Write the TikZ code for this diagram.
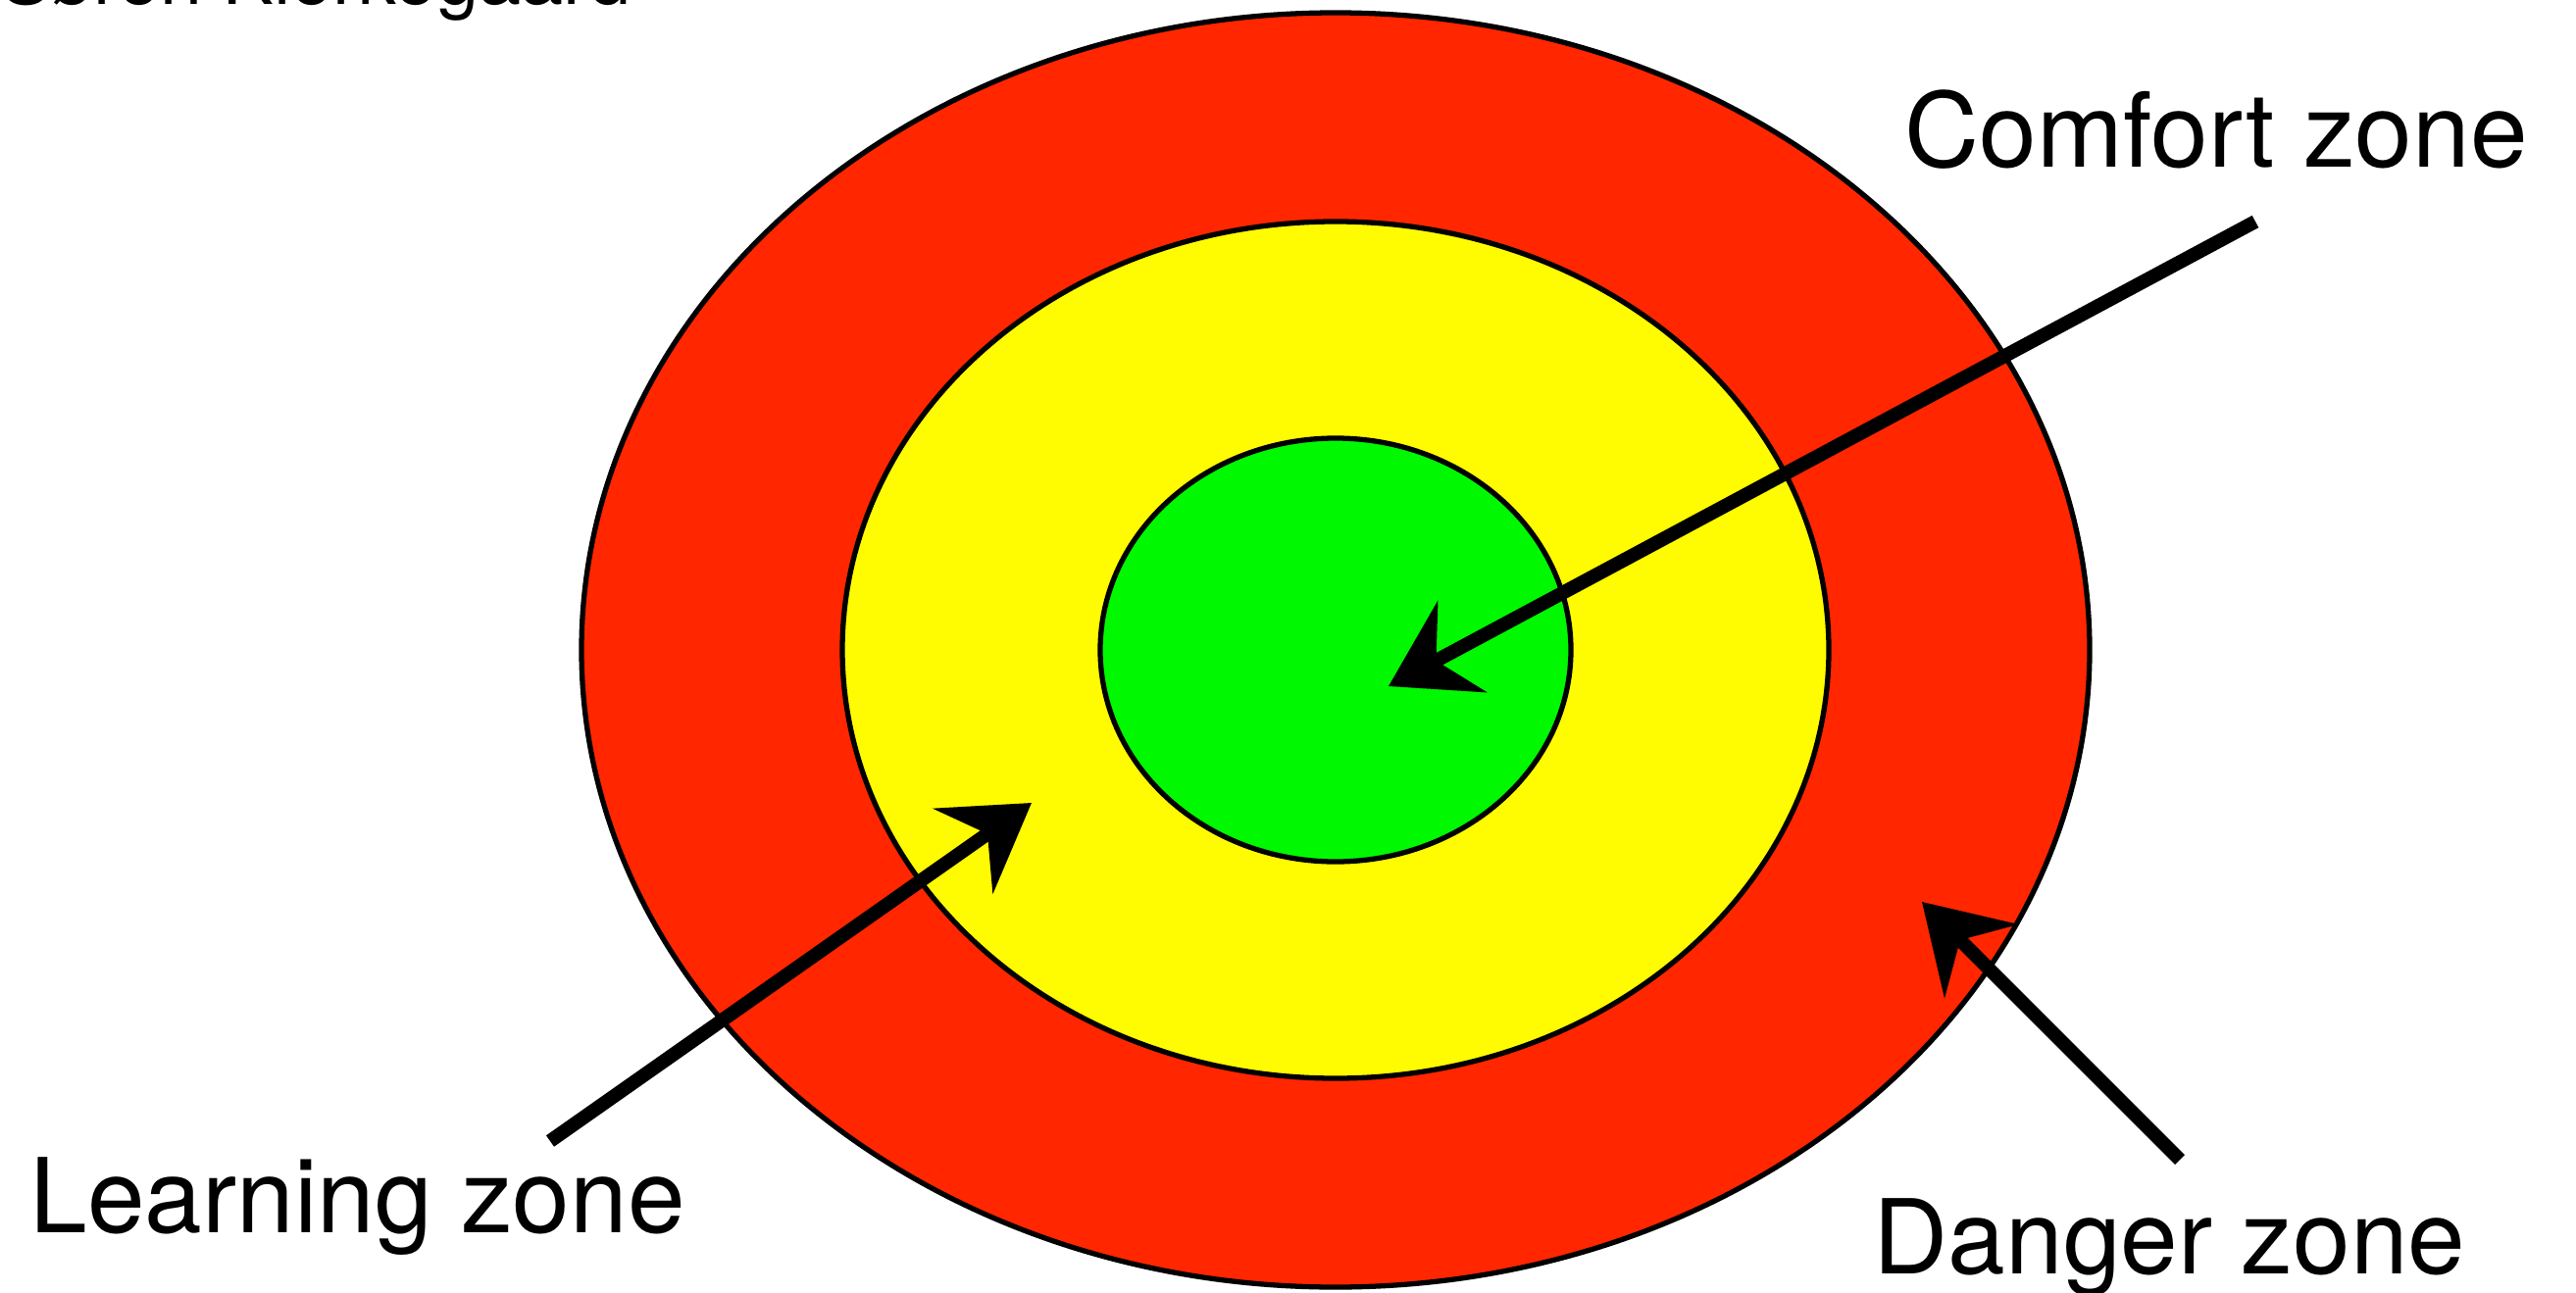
\documentclass[tikz,border=0pt]{standalone}
\usepackage{fontspec}
\setmainfont{TeX Gyre Heros}
\usetikzlibrary{shapes.geometric,arrows.meta}
\definecolor{zred}{HTML}{FF2600}
\definecolor{zyellow}{HTML}{FFFB00}
\definecolor{zgreen}{HTML}{00F900}
\tikzset{
  zone/.style={ellipse, draw=black, line width=1.5pt, inner sep=0pt, outer sep=0pt},
  zlabel/.style={anchor=base west, inner sep=0pt, font=\fontsize{30}{36}\selectfont},
  zarrow/.style={line width=0.14cm, draw=black, -{Stealth[length=0.85cm, width=1.05cm, inset=0.3cm]}}
}
\begin{document}
\begin{tikzpicture}
\useasboundingbox (0,0) rectangle (26.27,13.18);
\node[zone, fill=zred, minimum width=15.38cm, minimum height=13.0cm] (outer) at (13.62,6.55) {};
\node[zone, fill=zyellow, minimum width=10.06cm, minimum height=8.74cm] (middle) at (13.62,6.55) {};
\node[zone, fill=zgreen, minimum width=4.80cm, minimum height=4.32cm] (inner) at (13.62,6.55) {};

\node[anchor=base west, inner sep=0pt, font=\fontsize{22}{26}\selectfont] (author) at (0.0,13.13) {Søren Kierkegaard};

\node[zlabel] (comfort) at (19.42,11.47) {Comfort zone};
\node[zlabel] (learning) at (0.30,0.61) {Learning zone};
\node[zlabel] (danger) at (19.10,0.19) {Danger zone};

\coordinate (ctail) at (23.00,10.92);
\coordinate (ctip) at (14.16,6.18);
\coordinate (ltail) at (5.61,1.54);
\coordinate (ltip) at (10.52,4.99);
\coordinate (dtail) at (22.23,1.35);
\coordinate (dtip) at (19.60,3.98);

\draw[zarrow] (ctail) -- (ctip);
\draw[zarrow] (ltail) -- (ltip);
\draw[zarrow] (dtail) -- (dtip);
\end{tikzpicture}
\end{document}
